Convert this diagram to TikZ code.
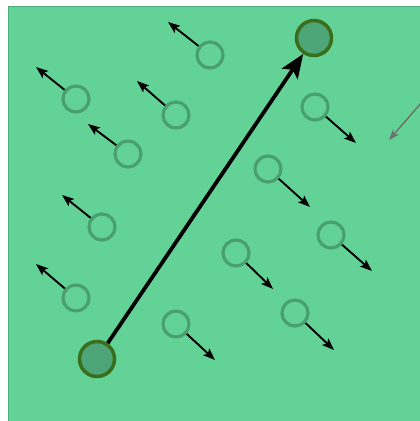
\documentclass[tikz,border=0pt]{standalone}
\usetikzlibrary{arrows.meta}
\definecolor{bg}{HTML}{63D297}
\definecolor{bgborder}{HTML}{4FAE7E}
\definecolor{ringc}{HTML}{4A9F70}
\definecolor{bigfill}{HTML}{4EA577}
\definecolor{bigring}{HTML}{3B6E1C}
\definecolor{grayarr}{HTML}{6E6E6E}
\tikzset{
  ring/.style={circle, draw=ringc, line width=3.2pt, minimum size=26pt, inner sep=0pt},
  bigdot/.style={circle, draw=bigring, fill=bigfill, line width=3.5pt, minimum size=35pt, inner sep=0pt},
  smallarrow/.style={draw=black, line width=1.9pt, -{Stealth[length=12pt,width=9pt,inset=2.5pt]}},
  bigarrow/.style={draw=black, line width=3.8pt, -{Stealth[length=24pt,width=19pt,inset=5pt]}},
  grayarrow/.style={draw=grayarr, line width=1.4pt, -{Stealth[length=11pt,width=8pt]}}
}
\begin{document}
\begin{tikzpicture}[x=1pt,y=-1pt]
\useasboundingbox (0,0) rectangle (420,421);
\begin{scope}
\clip (0,0) rectangle (420,421);
\fill[bg, draw=bgborder, line width=1.8pt] (8.5,6.5) rectangle (430,430);
\end{scope}
% big dots
\node[bigdot] (A) at (97,359) {};
\node[bigdot] (B) at (314,38) {};
% rings
\node[ring] (c1) at (210,55) {};
\node[ring] (c2) at (76,99) {};
\node[ring] (c3) at (176,115) {};
\node[ring] (c4) at (128,154) {};
\node[ring] (c5) at (102,227) {};
\node[ring] (c6) at (76,298) {};
\node[ring] (c7) at (315,107) {};
\node[ring] (c8) at (268,169) {};
\node[ring] (c9) at (331,235) {};
\node[ring] (c10) at (236,253) {};
\node[ring] (c11) at (295,313) {};
\node[ring] (c12) at (176,324) {};
% arrow ends
\coordinate (e1) at (168,22);
\coordinate (e2) at (36,67);
\coordinate (e3) at (137,81);
\coordinate (e4) at (88,124);
\coordinate (e5) at (62,195);
\coordinate (e6) at (36,264);
\coordinate (e7) at (356,143);
\coordinate (e8) at (310,207);
\coordinate (e9) at (372,271);
\coordinate (e10) at (273,289);
\coordinate (e11) at (334,350);
\coordinate (e12) at (215,360);
\foreach \i in {1,...,12} {\draw[smallarrow] (c\i) -- (e\i);}
\draw[bigarrow] (A) -- (B);
\coordinate (g0) at (422,102);
\coordinate (g1) at (389,140);
\draw[grayarrow] (g0) -- (g1);
\end{tikzpicture}
\end{document}
